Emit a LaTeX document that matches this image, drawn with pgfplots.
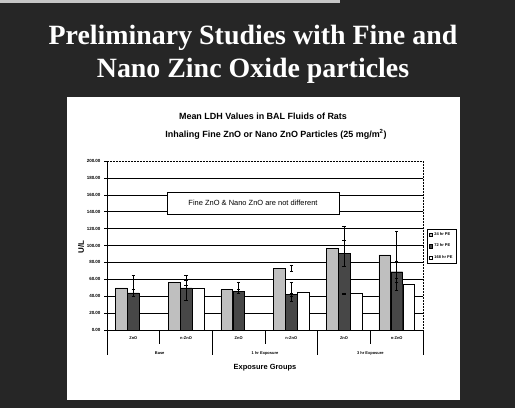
\documentclass[border=0pt]{standalone}
\usepackage{fontspec}
\setmainfont{Liberation Sans}
\newfontfamily\titlefont{Liberation Serif}
\usepackage{pgfplots}
\pgfplotsset{compat=1.18}
\begin{document}
\begin{tikzpicture}[x=1bp,y=1bp]
\fill[black!85] (0,0) rectangle (515,408);
\fill[gray!45] (0,405) rectangle (340,408);
\fill[white] (67,8) rectangle (460,311);
\node[font=\titlefont\bfseries\fontsize{28}{30}\selectfont, text=white, anchor=base, inner sep=0] at (253,364) {Preliminary Studies with Fine and};
\node[font=\titlefont\bfseries\fontsize{28}{30}\selectfont, text=white, anchor=base, inner sep=0] at (253,331) {Nano Zinc Oxide particles};
\node[font=\bfseries\fontsize{9}{10}\selectfont, anchor=base, inner sep=0] at (263,289) {Mean LDH Values in BAL Fluids of Rats};
\node[font=\bfseries\fontsize{9}{10}\selectfont, anchor=base, inner sep=0] at (276,271) {Inhaling Fine ZnO or Nano ZnO Particles (25 mg/m\textsuperscript{2})};
\begin{axis}[
  at={(107bp,78bp)}, anchor=origin, scale only axis,
  width=316bp, height=169bp,
  xmin=0, xmax=6, ymin=0, ymax=200,
  clip=false,
  axis line style={draw=none},
  xtick=\empty,
  ytick={0,20,...,180},
  extra y ticks={200},
  extra y tick style={ymajorgrids=false},
  ymajorgrids,
  major grid style={black, line width=0.5bp},
  tick align=outside, ytick pos=left,
  major tick length=3bp,
  tick style={black, line width=0.5bp},
  /pgf/number format/assume math mode=true,
  yticklabel style={font=\bfseries\fontsize{4.5}{5}\selectfont, /pgf/number format/.cd, fixed, fixed zerofill, precision=2},
  legend style={at={(1.013,0.598)}, anchor=north west, font=\bfseries\fontsize{4}{4.5}\selectfont, draw=black, line width=0.5bp, inner sep=1.5bp, row sep=3bp, cells={anchor=west}},
  legend image code/.code={\draw[#1, line width=0.3bp] (0bp,-1.6bp) rectangle (3.2bp,1.6bp);},
  error bars/error bar style={black, line width=0.5bp},
  error bars/error mark options={black, rotate=90, mark size=1.6bp, line width=0.5bp},
]
\addplot[ybar, bar width=11.7bp, bar shift=-12bp, fill=black!25, draw=black, line width=0.4bp,
  error bars/.cd, y dir=both, y explicit]
  coordinates {(0.5,50) +- (0,15) (1.5,56) +- (0,3) (2.5,48) +- (0,9) (3.5,73) +- (0,4) (4.5,97) +- (0,26) (5.5,89) +- (0,28)};
\addplot[ybar, bar width=11.7bp, bar shift=0bp, fill=black!72, draw=black, line width=0.4bp,
  error bars/.cd, y dir=both, y explicit]
  coordinates {(0.5,44) +- (0,4) (1.5,50) +- (0,15) (2.5,46) +- (0,2) (3.5,42) +- (0,2) (4.5,91) +- (0,15) (5.5,69) +- (0,12)};
\addplot[ybar, bar width=11.7bp, bar shift=12bp, fill=white, draw=black, line width=0.4bp,
  error bars/.cd, y dir=both, y explicit]
  coordinates {(1.5,50) +- (0,15) (3.5,45) +- (0,11) (4.5,43) +- (0,1) (5.5,54) +- (0,7)};
\legend{24 hr PE, 72 hr PE, 168 hr PE}
\draw[black, line width=0.6bp] (rel axis cs:0,1) -- (rel axis cs:0,0) -- (rel axis cs:1,0);
\draw[black, densely dotted, line width=0.5bp] (rel axis cs:0,1) -- (rel axis cs:1,1) -- (rel axis cs:1,0);
\draw[black, line width=0.6bp] (axis cs:0,0) -- ([yshift=-25bp]axis cs:0,0);
\draw[black, line width=0.6bp] (axis cs:2,0) -- ([yshift=-25bp]axis cs:2,0);
\draw[black, line width=0.6bp] (axis cs:4,0) -- ([yshift=-25bp]axis cs:4,0);
\draw[black, line width=0.6bp] (axis cs:6,0) -- ([yshift=-25bp]axis cs:6,0);
\draw[black, line width=0.6bp] (axis cs:1,0) -- ([yshift=-14bp]axis cs:1,0);
\draw[black, line width=0.6bp] (axis cs:3,0) -- ([yshift=-14bp]axis cs:3,0);
\draw[black, line width=0.6bp] (axis cs:5,0) -- ([yshift=-14bp]axis cs:5,0);
\node[font=\bfseries\fontsize{4}{4.5}\selectfont, yshift=-8bp] at (axis cs:0.5,0) {ZnO};
\node[font=\bfseries\fontsize{4}{4.5}\selectfont, yshift=-8bp] at (axis cs:1.5,0) {n-ZnO};
\node[font=\bfseries\fontsize{4}{4.5}\selectfont, yshift=-8bp] at (axis cs:2.5,0) {ZnO};
\node[font=\bfseries\fontsize{4}{4.5}\selectfont, yshift=-8bp] at (axis cs:3.5,0) {n-ZnO};
\node[font=\bfseries\fontsize{4}{4.5}\selectfont, yshift=-8bp] at (axis cs:4.5,0) {ZnO};
\node[font=\bfseries\fontsize{4}{4.5}\selectfont, yshift=-8bp] at (axis cs:5.5,0) {n-ZnO};
\node[font=\bfseries\fontsize{4}{4.5}\selectfont, yshift=-23bp] at (axis cs:1,0) {Base};
\node[font=\bfseries\fontsize{4}{4.5}\selectfont, yshift=-23bp] at (axis cs:3,0) {1 hr Exposure};
\node[font=\bfseries\fontsize{4}{4.5}\selectfont, yshift=-23bp] at (axis cs:5,0) {3 hr Exposure};
\node[font=\bfseries\fontsize{7.5}{8}\selectfont, yshift=-38bp] at (axis cs:3,0) {Exposure Groups};
\node[font=\bfseries\fontsize{8}{9}\selectfont, rotate=90] at (rel axis cs:-0.082,0.49) {U/L};
\node[draw=black, fill=white, line width=0.6bp, minimum width=172bp, minimum height=22bp, font=\fontsize{7.5}{8}\selectfont] at (rel axis cs:0.462,0.751) {Fine ZnO \& Nano ZnO are not different};
\end{axis}
\end{tikzpicture}
\end{document}
